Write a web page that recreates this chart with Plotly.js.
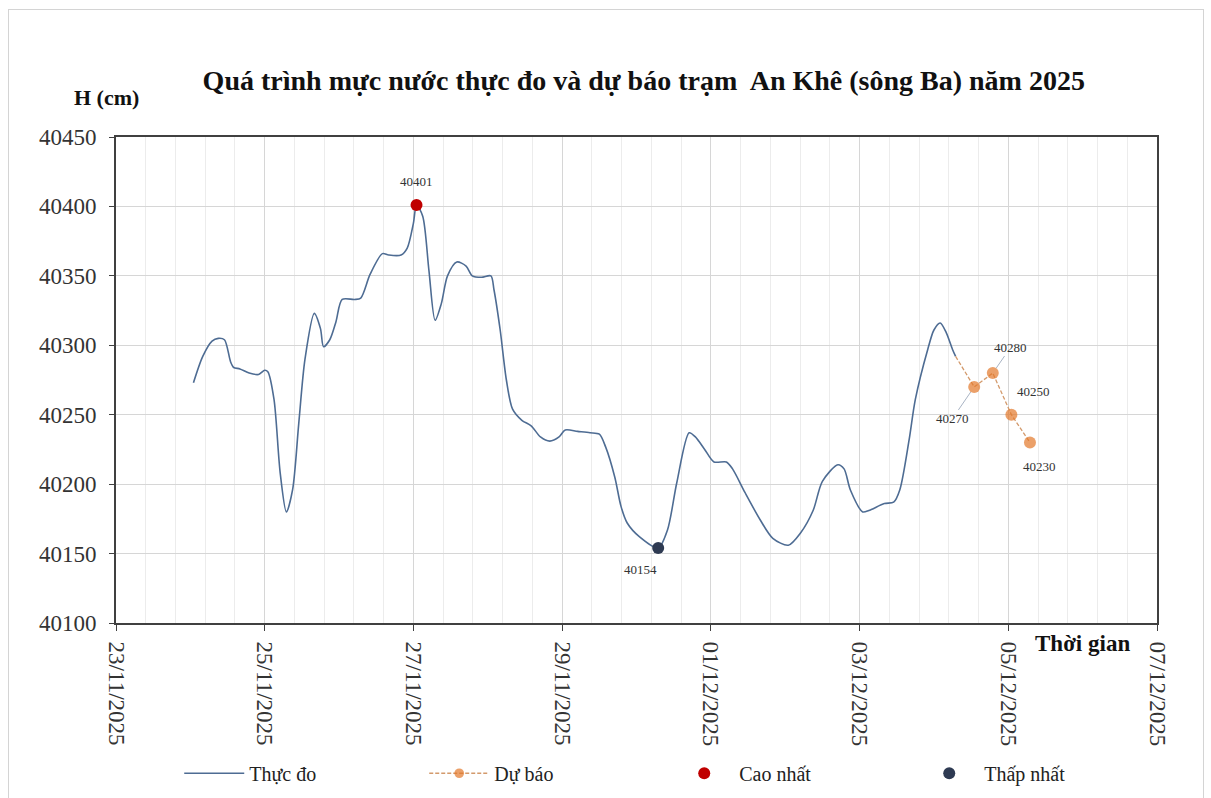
<!DOCTYPE html>
<html>
<head>
<meta charset="utf-8">
<script src="https://cdn.plot.ly/plotly-3.0.1.min.js"></script>
<style>
  html, body { margin: 0; padding: 0; background: #ffffff; }
  #chart { position: absolute; left: 0; top: 0; width: 1211px; height: 798px; }
  #frame { position: absolute; left: 8px; top: 9px; width: 1194px; height: 800px;
           border: 1px solid #d4d4d4; pointer-events: none; }
</style>
</head>
<body>
<div id="chart"></div>
<div id="frame"></div>
<script>
// ---- Observed water level (Thực đo) ----
const obsTime = [
  '2025-11-24 01:00','2025-11-24 04:00','2025-11-24 07:00','2025-11-24 09:00','2025-11-24 11:00',
  '2025-11-24 13:00','2025-11-24 14:00','2025-11-24 16:00','2025-11-24 19:00','2025-11-24 22:00',
  '2025-11-25 00:00','2025-11-25 01:00','2025-11-25 03:00','2025-11-25 05:00','2025-11-25 07:00',
  '2025-11-25 09:00','2025-11-25 11:00','2025-11-25 13:00','2025-11-25 16:00','2025-11-25 18:00',
  '2025-11-25 19:00','2025-11-25 21:00','2025-11-25 23:00','2025-11-26 01:00','2025-11-26 05:00',
  '2025-11-26 07:00','2025-11-26 10:00','2025-11-26 14:00','2025-11-26 16:00','2025-11-26 20:00',
  '2025-11-26 22:00','2025-11-27 00:00','2025-11-27 01:00','2025-11-27 03:00','2025-11-27 05:00',
  '2025-11-27 07:00','2025-11-27 09:00','2025-11-27 11:00','2025-11-27 14:00','2025-11-27 17:00',
  '2025-11-27 19:00','2025-11-27 22:00','2025-11-28 01:00','2025-11-28 02:00','2025-11-28 04:00',
  '2025-11-28 06:00','2025-11-28 08:00','2025-11-28 11:00','2025-11-28 14:00','2025-11-28 17:00',
  '2025-11-28 20:00','2025-11-28 23:00','2025-11-29 01:00','2025-11-29 05:00','2025-11-29 09:00',
  '2025-11-29 12:00','2025-11-29 14:00','2025-11-29 17:00','2025-11-29 19:00','2025-11-29 21:00',
  '2025-11-30 01:00','2025-11-30 07:00','2025-11-30 10:00','2025-11-30 13:00','2025-11-30 17:00',
  '2025-11-30 19:00','2025-11-30 22:00','2025-12-01 01:00','2025-12-01 05:00','2025-12-01 07:00',
  '2025-12-01 11:00','2025-12-01 16:00','2025-12-01 20:00','2025-12-02 01:00','2025-12-02 05:00',
  '2025-12-02 09:00','2025-12-02 12:00','2025-12-02 17:00','2025-12-02 19:00','2025-12-02 21:00',
  '2025-12-03 01:00','2025-12-03 03:00','2025-12-03 08:00','2025-12-03 11:00','2025-12-03 13:00',
  '2025-12-03 16:00','2025-12-03 18:00','2025-12-03 22:00','2025-12-04 00:00','2025-12-04 02:00',
  '2025-12-04 04:00','2025-12-04 06:00','2025-12-04 07:00'
];
const obsLevel = [
  40273, 40292, 40303, 40305, 40304,
  40288, 40284, 40283, 40280, 40279,
  40282, 40281, 40261, 40208, 40180,
  40196, 40244, 40290, 40323, 40312,
  40299, 40304, 40317, 40333, 40333,
  40334, 40351, 40366, 40365, 40365,
  40370, 40388, 40401, 40393, 40354,
  40318, 40330, 40350, 40360, 40357,
  40350, 40349, 40350, 40340, 40311,
  40275, 40254, 40246, 40242, 40234,
  40231, 40234, 40239, 40238, 40237,
  40236, 40227, 40205, 40184, 40172,
  40162, 40154, 40167, 40201, 40237,
  40234, 40225, 40216, 40216, 40211,
  40194, 40174, 40161, 40156, 40165,
  40181, 40202, 40214, 40211, 40196,
  40180, 40181, 40186, 40187, 40196,
  40232, 40261, 40297, 40311, 40316,
  40309, 40297, 40292
];

// ---- Forecast (Dự báo), first point = last observed ----
const fcTime  = ['2025-12-04 07:00','2025-12-04 13:00','2025-12-04 19:00','2025-12-05 01:00','2025-12-05 07:00'];
const fcLevel = [40292, 40270, 40280, 40250, 40230];

// ---- Extremes ----
const maxTime = ['2025-11-27 01:00'];
const maxLevel = [40401];
const minTime = ['2025-11-30 07:00'];
const minLevel = [40154];

// ---- Axis ticks ----
const yTicks = [40100, 40150, 40200, 40250, 40300, 40350, 40400, 40450];
const xStart = '2025-11-23', xEnd = '2025-12-07';

const serif = '"Liberation Serif", "Times New Roman", serif';
const DAY = 86400000;

const traces = [
  { x: obsTime, y: obsLevel, name: 'Thực đo', type: 'scatter', mode: 'lines',
    line: { color: '#4e6c93', width: 1.6, shape: 'spline', smoothing: 0.8 } },
  { x: fcTime, y: fcLevel, name: 'Dự báo', type: 'scatter', mode: 'lines+markers',
    line: { color: '#d39a6c', width: 1.3, dash: '4px,2px' },
    marker: { color: '#e2772a', size: fcLevel.map((v, i) => i === 0 ? 0 : 12), line: { width: 0 } } },
  { x: maxTime, y: maxLevel, name: 'Cao nhất', type: 'scatter', mode: 'markers',
    marker: { color: '#c00000', size: 12 } },
  { x: minTime, y: minLevel, name: 'Thấp nhất', type: 'scatter', mode: 'markers',
    marker: { color: '#2e3a52', size: 12 } }
];

const lblFont = { family: serif, size: 13, color: '#333333' };
const annotations = [
  { text: '<b>H (cm)</b>', xref: 'paper', yref: 'paper', x: -0.009, y: 1.081,
    xanchor: 'center', yanchor: 'middle', showarrow: false,
    font: { family: serif, size: 22, color: '#111111' } },
  { text: '<b>Thời gian</b>', xref: 'paper', yref: 'paper', x: 0.928, y: -0.042,
    xanchor: 'center', yanchor: 'middle', showarrow: false,
    font: { family: serif, size: 23, color: '#111111' } },
  { text: String(maxLevel[0]), x: maxTime[0], y: maxLevel[0], showarrow: false,
    yshift: 24, font: lblFont },
  { text: String(minLevel[0]), x: minTime[0], y: minLevel[0], showarrow: false,
    xshift: -18, yshift: -21, font: lblFont },
  // forecast labels
  { text: String(fcLevel[1]), x: fcTime[1], y: fcLevel[1], showarrow: true, arrowhead: 0,
    arrowcolor: '#a9b4c4', arrowwidth: 1, ax: -22, ay: 32, standoff: 6, font: lblFont },
  { text: String(fcLevel[2]), x: fcTime[2], y: fcLevel[2], showarrow: true, arrowhead: 0,
    arrowcolor: '#a9b4c4', arrowwidth: 1, ax: 18, ay: -26, standoff: 6, font: lblFont },
  { text: String(fcLevel[3]), x: fcTime[3], y: fcLevel[3], showarrow: false,
    xshift: 22, yshift: 23, font: lblFont },
  { text: String(fcLevel[4]), x: fcTime[4], y: fcLevel[4], showarrow: false,
    xshift: 10, yshift: -24, font: lblFont }
];

const layout = {
  width: 1211, height: 798,
  margin: { l: 116, r: 54, t: 137, b: 175 },
  paper_bgcolor: '#ffffff', plot_bgcolor: '#ffffff',
  font: { family: serif, color: '#333333' },
  title: { text: '<b>Quá trình mực nước thực đo và dự báo trạm  An Khê (sông Ba) năm 2025</b>',
           xref: 'paper', x: 0.507, xanchor: 'center', yref: 'container', y: 0.9, yanchor: 'middle',
           font: { family: serif, size: 28, color: '#111111' } },
  showlegend: true,
  legend: { orientation: 'h', xref: 'container', x: 0.148, xanchor: 'left',
            yref: 'container', y: 0.031, yanchor: 'middle',
            entrywidth: 170, entrywidthmode: 'pixels', itemwidth: 60, traceorder: 'normal',
            font: { family: serif, size: 20, color: '#222222' }, bgcolor: 'rgba(0,0,0,0)' },
  xaxis: {
    type: 'date', range: [xStart, xEnd], tick0: xStart, dtick: 2 * DAY,
    tickformat: '%d/%m/%Y', tickangle: 90, automargin: false, ticklabelstandoff: 6,
    ticks: 'outside', ticklen: 6, tickcolor: '#404040', tickwidth: 1,
    showgrid: true, gridcolor: '#d6d6d6', gridwidth: 1,
    minor: { tick0: xStart, dtick: 0.4 * DAY, showgrid: true, gridcolor: '#ececec', gridwidth: 1, ticks: '' },
    showline: true, linecolor: '#404040', linewidth: 2, mirror: true,
    zeroline: false,
    tickfont: { family: serif, size: 23, color: '#333333' }
  },
  yaxis: {
    range: [40100, 40450], tickvals: yTicks, ticktext: yTicks.map(String),
    automargin: false, ticklabelstandoff: 8,
    ticks: 'outside', ticklen: 5, tickcolor: '#404040',
    showgrid: true, gridcolor: '#d6d6d6', gridwidth: 1,
    showline: true, linecolor: '#404040', linewidth: 2, mirror: true,
    zeroline: false,
    tickfont: { family: serif, size: 23, color: '#333333' }
  },
  annotations: annotations
};

Plotly.newPlot('chart', traces, layout, { displayModeBar: false, staticPlot: true });
</script>
</body>
</html>
